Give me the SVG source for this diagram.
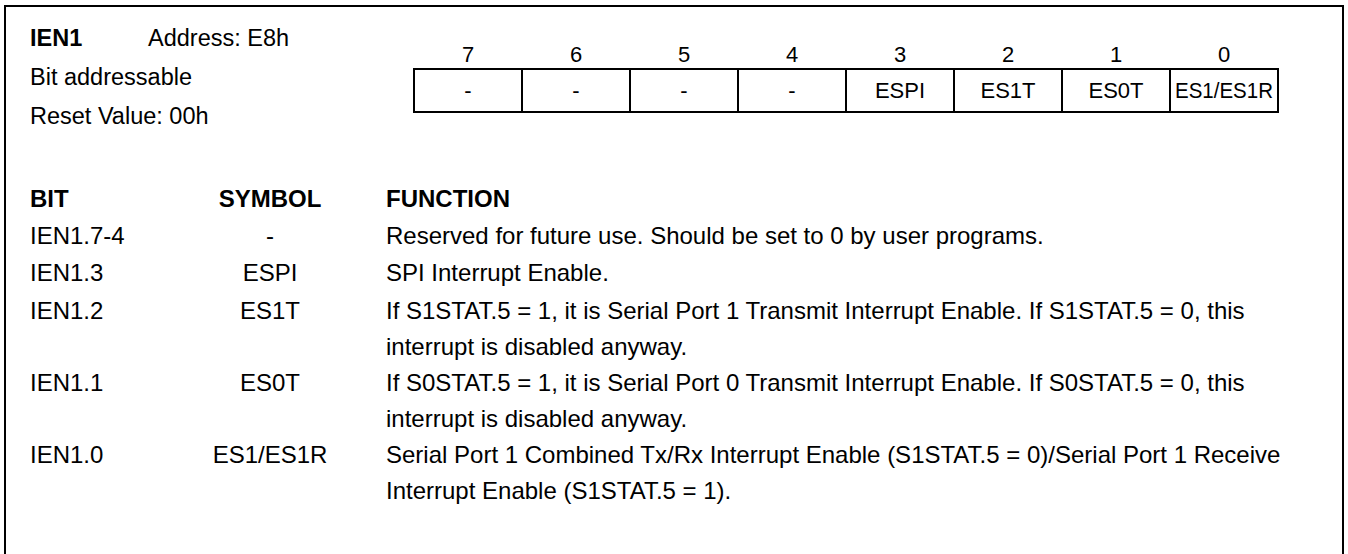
<svg xmlns="http://www.w3.org/2000/svg" width="1348" height="554" viewBox="0 0 1348 554">
  <style>
    text { font-family: "Liberation Sans", Arial, sans-serif; fill: #000; }
    .h { font-size: 23.5px; }
    .hb { font-size: 23.5px; font-weight: bold; }
    .t { font-size: 24px; }
    .b { font-size: 24px; font-weight: bold; }
    .c { font-size: 22px; text-anchor: middle; }
    .m { text-anchor: middle; }
    .cell { fill: #fff; stroke: #000; stroke-width: 2; }
    .frame { fill: none; stroke: #000; stroke-width: 2; }
  </style>
  <rect width="1348" height="554" fill="#fff"/>

  <!-- outer frame (open at the bottom) -->
  <path class="frame" d="M5,554 V6 H1343 V554"/>

  <!-- register title block -->
  <g id="title">
    <text class="hb" x="30" y="46">IEN1</text>
    <text class="h" x="148" y="46">Address: E8h</text>
    <text class="h" x="30" y="85">Bit addressable</text>
    <text class="h" x="30" y="124">Reset Value: 00h</text>
  </g>

  <!-- bit numbers above the register -->
  <g id="bit-numbers">
    <text class="c" x="468" y="62">7</text>
    <text class="c" x="576" y="62">6</text>
    <text class="c" x="684" y="62">5</text>
    <text class="c" x="792" y="62">4</text>
    <text class="c" x="900" y="62">3</text>
    <text class="c" x="1008" y="62">2</text>
    <text class="c" x="1116" y="62">1</text>
    <text class="c" x="1224" y="62">0</text>
  </g>

  <!-- register cells, bit 7 to bit 0 -->
  <g id="register">
    <rect class="cell" x="414" y="69" width="108" height="43"/>
    <rect class="cell" x="522" y="69" width="108" height="43"/>
    <rect class="cell" x="630" y="69" width="108" height="43"/>
    <rect class="cell" x="738" y="69" width="108" height="43"/>
    <rect class="cell" x="846" y="69" width="108" height="43"/>
    <rect class="cell" x="954" y="69" width="108" height="43"/>
    <rect class="cell" x="1062" y="69" width="108" height="43"/>
    <rect class="cell" x="1170" y="69" width="108" height="43"/>
    <text class="c" x="468" y="98">-</text>
    <text class="c" x="576" y="98">-</text>
    <text class="c" x="684" y="98">-</text>
    <text class="c" x="792" y="98">-</text>
    <text class="c" x="900" y="98">ESPI</text>
    <text class="c" x="1008" y="98">ES1T</text>
    <text class="c" x="1116" y="98">ES0T</text>
    <text class="c" x="1224" y="98" textLength="98" lengthAdjust="spacingAndGlyphs">ES1/ES1R</text>
  </g>

  <!-- bit description table -->
  <g id="table-head">
    <text class="b" x="30" y="207">BIT</text>
    <text class="b m" x="270" y="207">SYMBOL</text>
    <text class="b" x="386" y="207">FUNCTION</text>
  </g>

  <g id="row-7-4">
    <text class="t" x="30" y="244">IEN1.7-4</text>
    <text class="t m" x="270" y="244">-</text>
    <text class="t" x="386" y="244">Reserved for future use. Should be set to 0 by user programs.</text>
  </g>

  <g id="row-3">
    <text class="t" x="30" y="281">IEN1.3</text>
    <text class="t m" x="270" y="281">ESPI</text>
    <text class="t" x="386" y="281">SPI Interrupt Enable.</text>
  </g>

  <g id="row-2">
    <text class="t" x="30" y="319">IEN1.2</text>
    <text class="t m" x="270" y="319">ES1T</text>
    <text class="t" x="386" y="319">If S1STAT.5 = 1, it is Serial Port 1 Transmit Interrupt Enable. If S1STAT.5 = 0, this</text>
    <text class="t" x="386" y="355">interrupt is disabled anyway.</text>
  </g>

  <g id="row-1">
    <text class="t" x="30" y="391">IEN1.1</text>
    <text class="t m" x="270" y="391">ES0T</text>
    <text class="t" x="386" y="391">If S0STAT.5 = 1, it is Serial Port 0 Transmit Interrupt Enable. If S0STAT.5 = 0, this</text>
    <text class="t" x="386" y="427">interrupt is disabled anyway.</text>
  </g>

  <g id="row-0">
    <text class="t" x="30" y="463">IEN1.0</text>
    <text class="t m" x="270" y="463">ES1/ES1R</text>
    <text class="t" x="386" y="463">Serial Port 1 Combined Tx/Rx Interrupt Enable (S1STAT.5 = 0)/Serial Port 1 Receive</text>
    <text class="t" x="386" y="499">Interrupt Enable (S1STAT.5 = 1).</text>
  </g>
</svg>
